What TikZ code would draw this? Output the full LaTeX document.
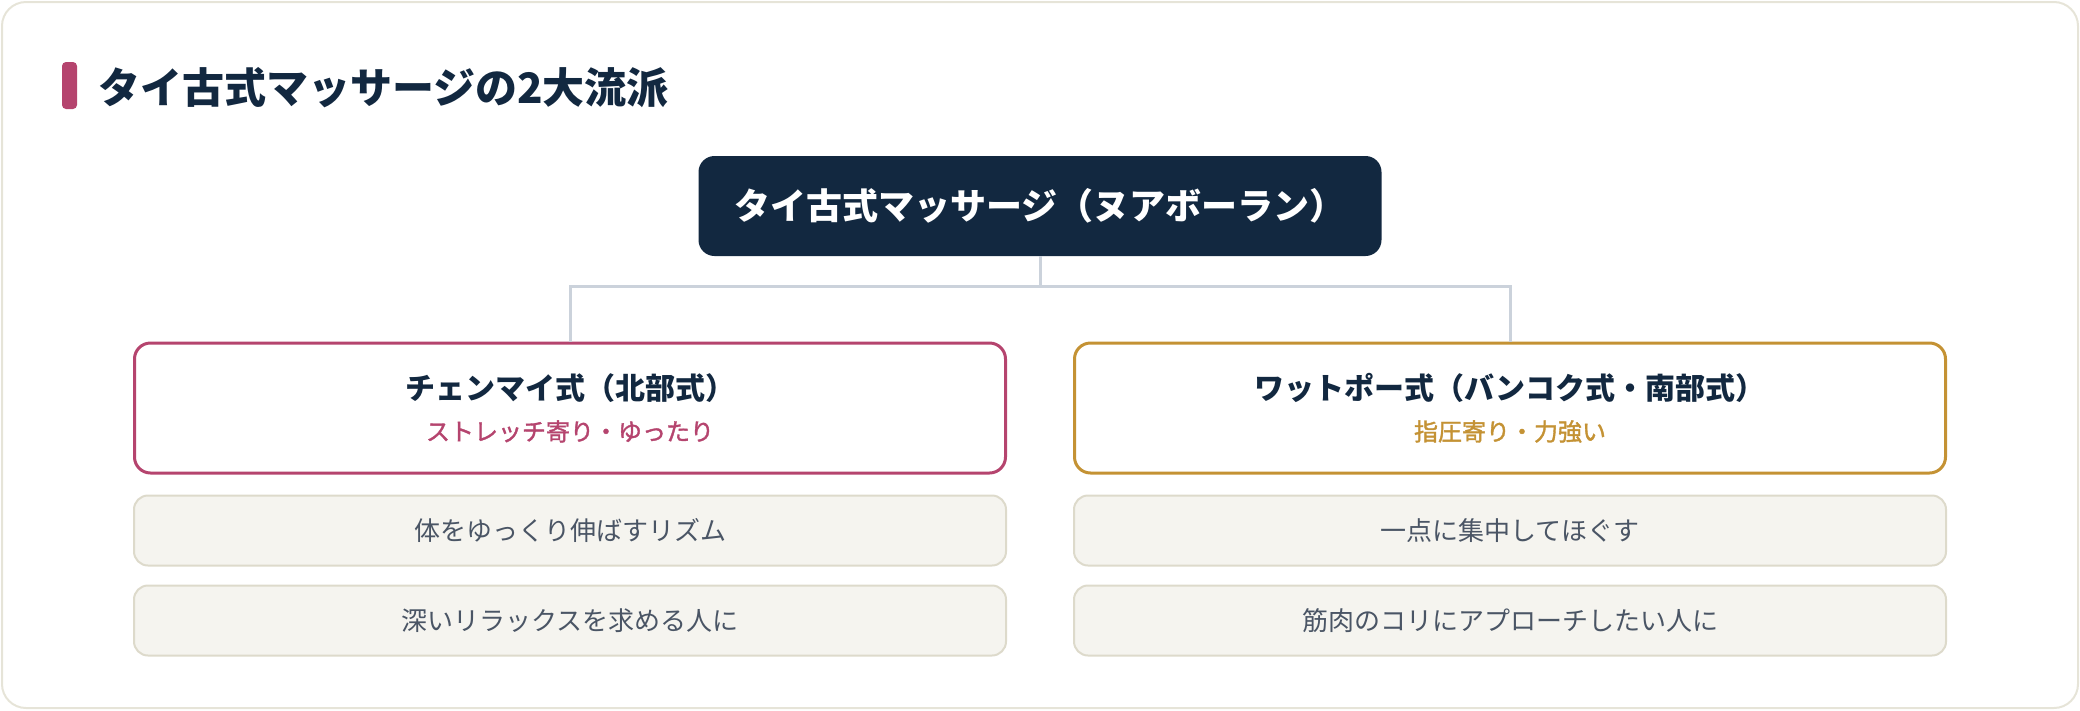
\documentclass[tikz,border=0pt]{standalone}
\usepackage{fontspec}
\setmainfont{Noto Sans CJK JP}
\newfontfamily\jpmedium[UprightFeatures={FakeBold=1.5}]{Noto Sans CJK JP}
\usetikzlibrary{positioning}

\definecolor{navy}{RGB}{18,40,64}
\definecolor{raspberry}{RGB}{181,68,110}
\definecolor{ochre}{RGB}{196,146,52}
\definecolor{wire}{RGB}{203,210,219}
\definecolor{paper}{RGB}{245,244,239}
\definecolor{paperline}{RGB}{221,218,203}
\definecolor{itemtext}{RGB}{74,85,101}
\definecolor{framebeige}{RGB}{230,228,216}

\newcommand{\fs}[1]{\fontsize{#1}{#1}\selectfont}

\begin{document}
\begin{tikzpicture} [x=1pt, y=-1pt,
				root/.style={
				% The shape:
				rectangle, rounded corners=16pt,
				% The size:
      				minimum width=683pt, minimum height=100pt,
				% The filling:
				fill=navy, text=white,
				font=\fs{36}\bfseries
    				},
				branch/.style={
				% The shape:
				rectangle, rounded corners=16pt,
				% The size:
      				minimum width=871pt, minimum height=130pt,
				% The border:
      				line width=3pt, fill=white,
				font=\fs{30}\bfseries, text=navy
    				},
				item/.style={
				% The shape:
				rectangle, rounded corners=14pt,
				% The size:
      				minimum width=872pt, minimum height=70pt,
				% The border:
      				line width=2pt, draw=paperline,
      				% The filling:
				fill=paper, text=itemtext,
				font=\fs{26}
    				},
				link/.style={line width=3pt, draw=wire},
				]
    \tikzstyle{every node} = [align=center, inner sep=0pt]
    \useasboundingbox (0,0) rectangle (2080,710);
    % frame and heading
    \draw[framebeige, line width=2pt, rounded corners=24pt] (2,2) rectangle (2078,708);
    \fill[raspberry, rounded corners=4pt] (62,62) rectangle (77,109);
    \node[anchor=west, text=navy, font=\fs{42}\bfseries] (heading) at (98,88) {タイ古式マッサージの2大流派};
    % the tree
    \node [root] (root) at (1040,206) {タイ古式マッサージ（ヌアボーラン）};
    \node [branch, draw=raspberry] (north) at (570,408) {チェンマイ式（北部式）\\[11pt]{\fs{24}\jpmedium\mdseries\color{raspberry}ストレッチ寄り・ゆったり}};
    \node [branch, draw=ochre] (south) at (1510,408) {ワットポー式（バンコク式・南部式）\\[11pt]{\fs{24}\jpmedium\mdseries\color{ochre}指圧寄り・力強い}};
    \coordinate (fork) at (1040,286);
    \draw[link] (root.south) -- (fork);
    \draw[link] (fork) -| (north.north);
    \draw[link] (fork) -| (south.north);
    % what each school is like
    \node [item, below=20pt of north] (north1) {体をゆっくり伸ばすリズム};
    \node [item, below=18pt of north1] (north2) {深いリラックスを求める人に};
    \node [item, below=20pt of south] (south1) {一点に集中してほぐす};
    \node [item, below=18pt of south1] (south2) {筋肉のコリにアプローチしたい人に};
\end{tikzpicture}
\end{document}
